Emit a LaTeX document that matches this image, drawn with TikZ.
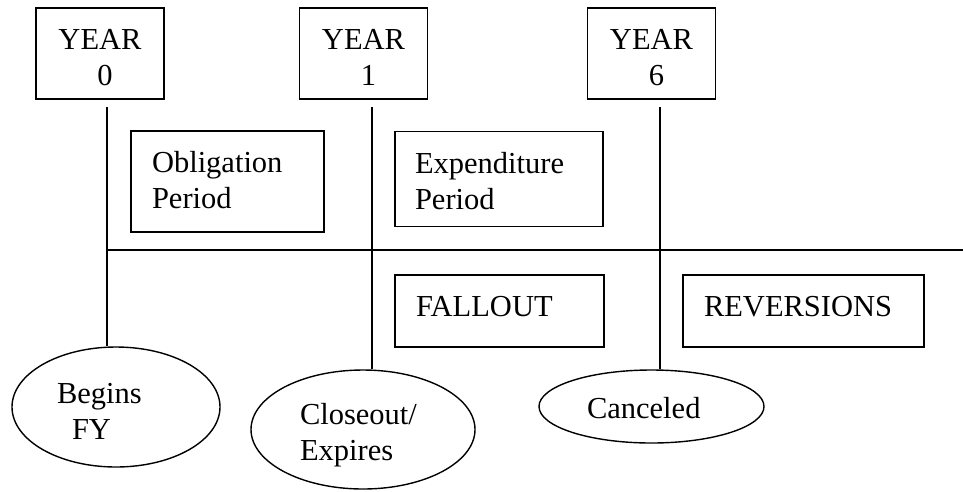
\documentclass[tikz,border=0pt]{standalone}
\usepackage{fontspec}
\setmainfont{Liberation Serif}
\usetikzlibrary{shapes.geometric}
\begin{document}
\begin{tikzpicture}[x=1pt,y=-1pt,
  every node/.style={font=\fontsize{30.5}{36}\selectfont, line width=1.4pt, inner sep=0pt},
  yearbox/.style={draw, rectangle, minimum width=128, minimum height=91,
    text width=110, align=center, text height=20, text depth=29},
  periodbox/.style={draw, rectangle, align=left},
  oval/.style={draw, ellipse, align=left},
  conn/.style={line width=1.4pt}]
\useasboundingbox (0,0) rectangle (963,491);
% year boxes
\node[yearbox] (y0) at (100,53.5) {YEAR\\~0};
\node[yearbox] (y1) at (363.5,53.5) {YEAR\\~1};
\node[yearbox] (y6) at (651.5,53.5) {YEAR\\~6};
% period boxes
\node[periodbox, minimum width=193, minimum height=101, text width=151,
  text height=20, text depth=39] (obl) at (227.5,181.5) {Obligation\\Period};
\node[periodbox, minimum width=208, minimum height=95, text width=168,
  text height=20, text depth=32] (exp) at (499,179) {Expenditure\\Period};
\node[periodbox, minimum width=209, minimum height=72, text width=167,
  text height=20, text depth=10] (fall) at (499.5,311) {FALLOUT};
\node[periodbox, minimum width=241, minimum height=72, text width=199,
  text height=20, text depth=10] (rev) at (803.5,311) {REVERSIONS};
% ellipses
\node[oval, minimum width=208, minimum height=120, text width=118,
  text height=20, text depth=28] (b0) at (116,407) {Begins\\\hspace*{15pt}FY};
\node[oval, minimum width=224, minimum height=119, text width=126,
  text height=20, text depth=30] (c1) at (363,429.5) {Closeout/\\Expires};
\node[oval, minimum width=225, minimum height=73, text width=129,
  text height=23, text depth=0] (c6) at (651.5,406.5) {Canceled};
% connectors
\coordinate (t0) at (107,107);
\coordinate (t1) at (372,107);
\coordinate (t6) at (660,107);
\coordinate (hend) at (963,250);
\draw[conn] (t0) -- (t0 |- b0.north);
\draw[conn] (t1) -- (t1 |- c1.north);
\draw[conn] (t6) -- (t6 |- c6.north);
\draw[conn] (t0 |- hend) -- (hend);
\end{tikzpicture}
\end{document}
